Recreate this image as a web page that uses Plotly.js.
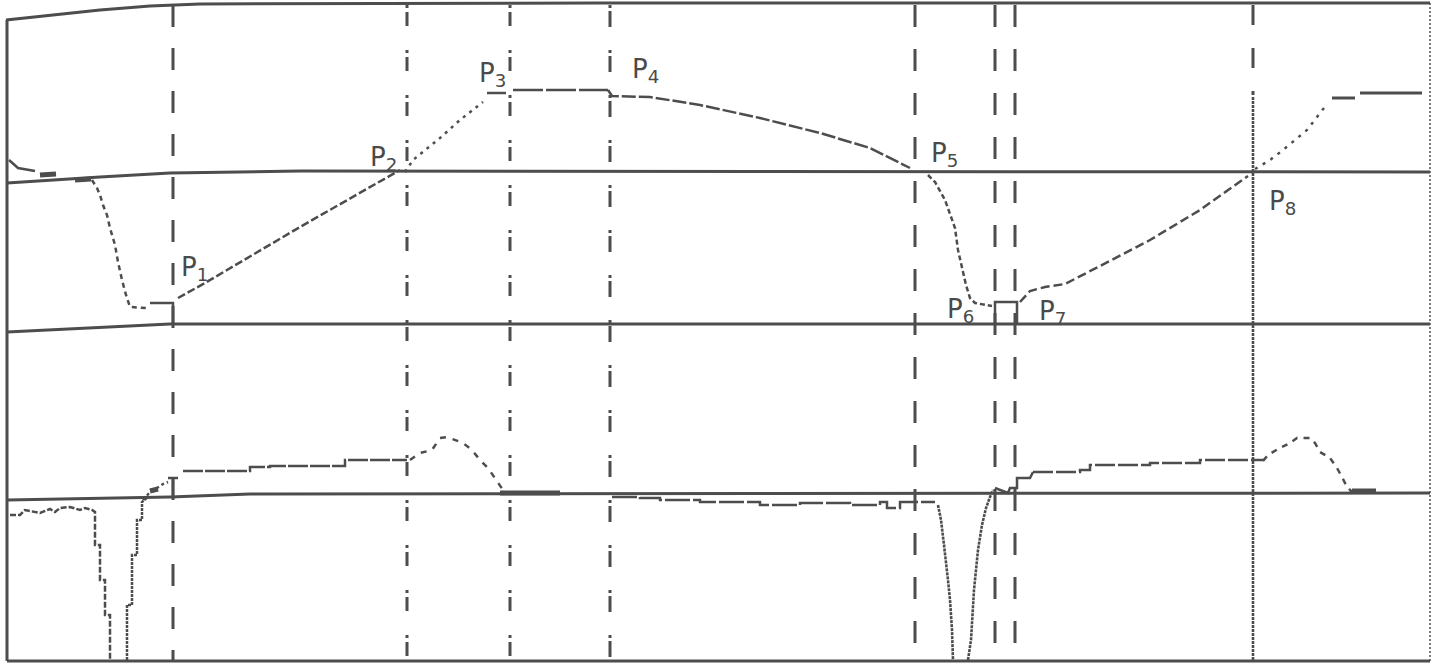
<!DOCTYPE html>
<html><head><meta charset="utf-8">
<script src="https://cdn.plot.ly/plotly-3.0.1.min.js"></script>
<style>html,body{margin:0;padding:0;background:#fff}#c{width:1433px;height:664px}</style>
</head><body><div id="c"></div>
<script>
// ---- frame / baseline traces (time units, amplitude units as read from the record) ----
const frameTopX = [6, 50, 100, 150, 200, 600, 1430];
const frameTopY = [20, 15, 10, 6, 4, 3, 3];
const frameLeftX = [7, 7];
const frameLeftY = [20, 661];
const frameBottomX = [7, 1430];
const frameBottomY = [661, 661];
const frameRightX = [1430, 1430];
const frameRightY = [3, 661];
const base1X = [7, 50, 100, 170, 300, 1430];
const base1Y = [183, 180, 177, 173, 171, 172];
const base2X = [7, 170, 1430];
const base2Y = [332, 324, 324];
const base3X = [7, 170, 250, 1430];
const base3Y = [500, 497, 494, 493];

// ---- event markers (vertical lines) ----
const markerX = [173, 407, 510, 610, 915, 995, 1015, 1253];
const markerStyle = ['22px,21px', '3px,4px,14px,24px', '3px,4px,14px,24px', '3px,3px,16px,23px',
                     '22px,22px', '22px,22px', '22px,22px', '20px,23px'];
const markerTop = 5, markerBottom = 661;

// ---- upper trace (position) ----
const upStartX = [9, 18, 35];
const upStartY = [160, 168, 171];
const upDropX = [92, 97, 100, 103, 107, 110, 115, 118, 122, 126, 130, 147];
const upDropY = [180, 188, 195, 205, 215, 228, 245, 262, 280, 295, 307, 308];
const upStepX = [150, 173, 173];
const upStepY = [303, 303, 325];
const upRise1X = [178, 197, 205, 300, 400];
const upRise1Y = [298, 287, 283, 227, 170];
const upRise2X = [405, 413, 440, 460, 483];
const upRise2Y = [172, 160, 138, 120, 102];
const upP3X = [487, 506];
const upP3Y = [93, 93];
const upPlateauX = [513, 608];
const upPlateauY = [90, 90];
const upFallX = [608, 612, 650, 700, 760, 820, 870, 895, 910];
const upFallY = [90, 96, 97, 105, 118, 133, 148, 160, 168];
const upDrop2X = [928, 935, 945, 950, 955, 958, 962, 966, 970, 975, 992];
const upDrop2Y = [175, 182, 200, 215, 228, 250, 268, 285, 298, 303, 306];
const upBoxX = [995, 995, 1017, 1017];
const upBoxY = [324, 302, 302, 324];
const upRise3X = [1020, 1030, 1045, 1065, 1100, 1150, 1200, 1248];
const upRise3Y = [302, 291, 287, 284, 266, 240, 210, 176];
const upRise4X = [1255, 1270, 1283, 1307, 1327];
const upRise4Y = [169, 160, 150, 130, 104];
const upEnd1X = [1332, 1355];
const upEnd1Y = [98, 98];
const upEnd2X = [1360, 1422];
const upEnd2Y = [93, 93];
const blobsX = [[40, 56], [75, 91], [1352, 1376], [500, 560], [150, 158]];
const blobsY = [[175, 174], [180, 179], [491, 491], [493, 493], [491, 489]];

// ---- lower trace (velocity) ----
const loStartX = [143, 150, 157, 163, 168];
const loStartY = [500, 492, 488, 484, 482];
const loTickX = [168, 173, 178, 173, 173];
const loTickY = [478, 478, 478, 478, 495];
const loLevel1X = [183, 250, 270, 345, 407];
const loLevel1Y = [471, 467, 466, 460, 460];
const loBump1X = [410, 420, 432, 440, 447, 463, 472, 480, 488, 497, 503];
const loBump1Y = [460, 453, 450, 438, 437, 443, 450, 460, 468, 482, 490];
const loNegX = [612, 640, 660, 700, 760, 800, 850, 880, 887, 900, 935];
const loNegY = [497, 498, 500, 502, 505, 503, 505, 502, 508, 502, 502];
const loDropX = [938, 941, 944, 946, 948, 950, 952, 953];
const loDropY = [505, 520, 545, 560, 580, 600, 630, 660];
const loRiseX = [968, 971, 974, 978, 982, 986, 990, 993];
const loRiseY = [660, 640, 590, 550, 525, 508, 497, 490];
const loMidX = [995, 1008, 1010, 1017, 1017, 1030, 1033];
const loMidY = [488, 493, 488, 488, 478, 478, 472];
const loLevel2X = [1033, 1080, 1090, 1150, 1200, 1263];
const loLevel2Y = [472, 470, 465, 463, 460, 461];
const loBump2X = [1263, 1268, 1278, 1290, 1297, 1310, 1315, 1320, 1330, 1337, 1342, 1347, 1352];
const loBump2Y = [461, 455, 449, 443, 438, 438, 443, 452, 458, 468, 477, 487, 492];
const leftLowX = [10, 20, 25, 35, 40, 50, 55, 60, 70, 80, 85, 92, 95, 95, 100, 100, 105, 105, 110, 110];
const leftLowY = [515, 515, 510, 512, 513, 509, 512, 508, 507, 510, 508, 510, 512, 545, 545, 580, 580, 615, 615, 660];
const leftRiseX = [127, 127, 132, 132, 137, 137, 142, 142, 148];
const leftRiseY = [660, 605, 605, 555, 555, 520, 520, 502, 497];

// ---- point labels ----
const labelText = ['P<sub>1</sub>', 'P<sub>2</sub>', 'P<sub>3</sub>', 'P<sub>4</sub>', 'P<sub>5</sub>', 'P<sub>6</sub>', 'P<sub>7</sub>', 'P<sub>8</sub>'];
const labelX = [194, 383, 492, 645, 944, 960, 1052, 1282];
const labelY = [268, 158, 74, 70, 154, 310, 312, 202];

const INK = '#4d4d4d';
const traces = [];
function add(x, y, w, dash, shape) {
  traces.push({x: x, y: y, type: 'scatter', mode: 'lines', hoverinfo: 'skip',
    line: {color: INK, width: w, dash: dash || 'solid', shape: shape || 'linear'}});
}
add(frameTopX, frameTopY, 3);
add(frameLeftX, frameLeftY, 3);
add(frameBottomX, frameBottomY, 3);
add(frameRightX, frameRightY, 1.5, '2px,2px');
add(base1X, base1Y, 3);
add(base2X, base2Y, 3);
add(base3X, base3Y, 3);
markerX.forEach(function (mx, i) {
  if (i === markerX.length - 1) {
    add([mx, mx], [markerTop, 95], 3, markerStyle[i]);
    add([mx, mx], [97, markerBottom], 2.6, '3px,1px');
  } else {
    add([mx, mx], [markerTop, markerBottom], 3, markerStyle[i]);
  }
});
add(upStartX, upStartY, 2.5);
add(upDropX, upDropY, 2.5, '5px,4px');
add(upStepX, upStepY, 2.5);
add(upRise1X, upRise1Y, 2.5, '8px,3px');
add(upRise2X, upRise2Y, 2.5, '3px,5px');
add(upP3X, upP3Y, 2.5);
add(upPlateauX, upPlateauY, 2.5, '30px,3px');
add(upFallX, upFallY, 2.5, '14px,3px');
add(upDrop2X, upDrop2Y, 2.5, '5px,3px');
add(upBoxX, upBoxY, 2.5);
add(upRise3X, upRise3Y, 2.5, '9px,4px');
add(upRise4X, upRise4Y, 2.5, '3px,6px');
add(upEnd1X, upEnd1Y, 3);
add(upEnd2X, upEnd2Y, 3);
blobsX.forEach(function (bx, i) { add(bx, blobsY[i], 5); });
add(loStartX, loStartY, 2.5, '3px,3px');
add(loTickX, loTickY, 2.5);
add(loLevel1X, loLevel1Y, 2.5, '20px,2px', 'hv');
add(loBump1X, loBump1Y, 2.5, '6px,7px');
add(loNegX, loNegY, 2.5, '25px,3px', 'hv');
add(loDropX, loDropY, 2.6, '3px,1px');
add(loRiseX, loRiseY, 2.6, '3px,1px');
add(loMidX, loMidY, 2.5);
add(loLevel2X, loLevel2Y, 2.5, '20px,3px', 'hv');
add(loBump2X, loBump2Y, 2.5, '6px,6px');
add(leftLowX, leftLowY, 2.5, '6px,2px');
add(leftRiseX, leftRiseY, 2.5, '3px,1px');

const annotations = labelText.map(function (t, i) {
  return {x: labelX[i], y: labelY[i], text: t, showarrow: false, xanchor: 'center', yanchor: 'middle',
    font: {family: 'DejaVu Sans', size: 26, color: '#4a4a4a'}};
});

Plotly.newPlot('c', traces, {
  width: 1433, height: 664, margin: {l: 0, r: 0, t: 0, b: 0},
  paper_bgcolor: '#ffffff', plot_bgcolor: '#ffffff', showlegend: false,
  xaxis: {range: [0, 1433], visible: false, fixedrange: true},
  yaxis: {range: [664, 0], visible: false, fixedrange: true},
  annotations: annotations
}, {staticPlot: true});
</script></body></html>
